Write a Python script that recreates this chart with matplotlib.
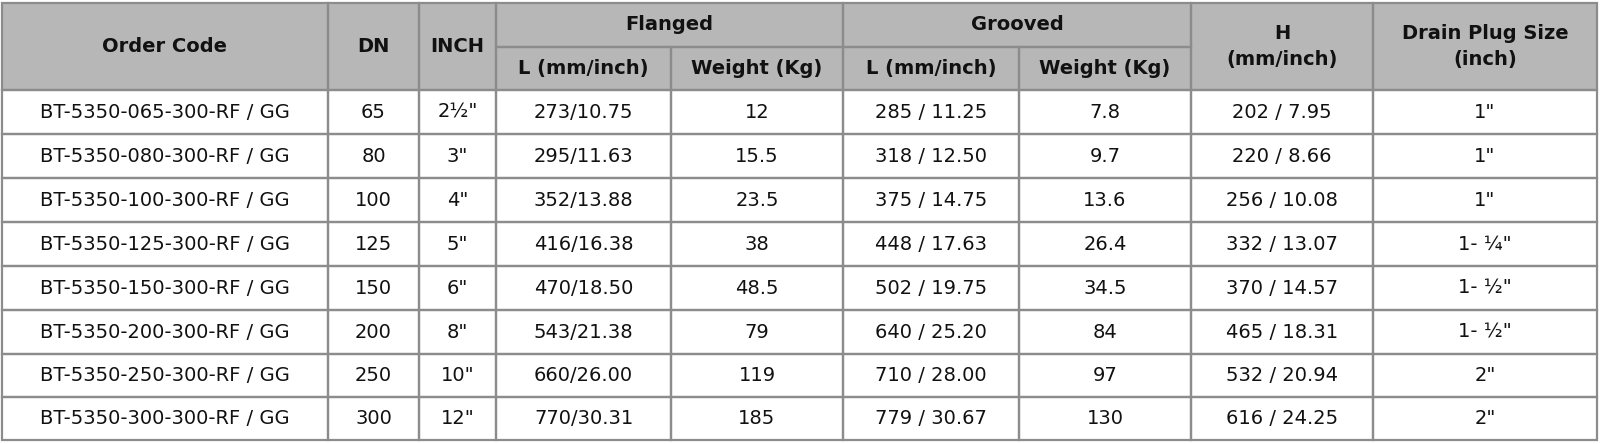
import matplotlib
matplotlib.use("Agg")
import matplotlib.pyplot as plt
from matplotlib.patches import Rectangle

# ── Table data ────────────────────────────────────────────────────────────────
order_codes = ["BT-5350-065-300-RF / GG", "BT-5350-080-300-RF / GG",
               "BT-5350-100-300-RF / GG", "BT-5350-125-300-RF / GG",
               "BT-5350-150-300-RF / GG", "BT-5350-200-300-RF / GG",
               "BT-5350-250-300-RF / GG", "BT-5350-300-300-RF / GG"]
dn = ["65", "80", "100", "125", "150", "200", "250", "300"]
inch = ['2½"', '3"', '4"', '5"', '6"', '8"', '10"', '12"']
flanged_l = ["273/10.75", "295/11.63", "352/13.88", "416/16.38",
             "470/18.50", "543/21.38", "660/26.00", "770/30.31"]
flanged_w = ["12", "15.5", "23.5", "38", "48.5", "79", "119", "185"]
grooved_l = ["285 / 11.25", "318 / 12.50", "375 / 14.75", "448 / 17.63",
             "502 / 19.75", "640 / 25.20", "710 / 28.00", "779 / 30.67"]
grooved_w = ["7.8", "9.7", "13.6", "26.4", "34.5", "84", "97", "130"]
h_dim = ["202 / 7.95", "220 / 8.66", "256 / 10.08", "332 / 13.07",
         "370 / 14.57", "465 / 18.31", "532 / 20.94", "616 / 24.25"]
drain = ['1"', '1"', '1"', '1- ¼"', '1- ½"', '1- ½"', '2"', '2"']

columns = [order_codes, dn, inch, flanged_l, flanged_w,
           grooved_l, grooved_w, h_dim, drain]

# headers spanning both header rows (column index -> label)
full_headers = {0: "Order Code", 1: "DN", 2: "INCH",
                7: "H\n(mm/inch)", 8: "Drain Plug Size\n(inch)"}
group_headers = [("Flanged", 3, 5), ("Grooved", 5, 7)]
sub_headers = {3: "L (mm/inch)", 4: "Weight (Kg)",
               5: "L (mm/inch)", 6: "Weight (Kg)"}

# ── Layout (pixels) ───────────────────────────────────────────────────────────
W, H = 1600, 444
col_x = [2, 328, 419, 496, 671, 843, 1019, 1191, 1373, 1597]
head_top, head_mid, head_bot = 3, 47, 90
row_y = [90, 134, 178, 222, 266, 310, 354, 397, 440]

HEAD_BG = "#b7b7b7"
LINE = "#8c8c8c"
LW = 1.6
FS = 14
FONT = "DejaVu Sans"

fig = plt.figure(figsize=(W / 100, H / 100), dpi=100)
ax = fig.add_axes([0, 0, 1, 1])
ax.set_xlim(0, W)
ax.set_ylim(H, 0)
ax.axis("off")

# header background
ax.add_patch(Rectangle((col_x[0], head_top), col_x[-1] - col_x[0],
                       head_bot - head_top, facecolor=HEAD_BG, edgecolor="none"))

def cell(x0, x1, y0, y1, text, bold=False):
    ax.add_patch(Rectangle((x0, y0), x1 - x0, y1 - y0, facecolor="none",
                           edgecolor=LINE, linewidth=LW))
    ax.text((x0 + x1) / 2, (y0 + y1) / 2, text, ha="center", va="center",
            fontsize=FS, family=FONT, fontweight="bold" if bold else "normal",
            color="#111111", linespacing=1.45)

for c, label in full_headers.items():
    cell(col_x[c], col_x[c + 1], head_top, head_bot, label, bold=True)
for label, c0, c1 in group_headers:
    cell(col_x[c0], col_x[c1], head_top, head_mid, label, bold=True)
for c, label in sub_headers.items():
    cell(col_x[c], col_x[c + 1], head_mid, head_bot, label, bold=True)

for r in range(len(order_codes)):
    for c, values in enumerate(columns):
        cell(col_x[c], col_x[c + 1], row_y[r], row_y[r + 1], values[r])

fig.savefig("out.png", dpi=100, facecolor="white")
